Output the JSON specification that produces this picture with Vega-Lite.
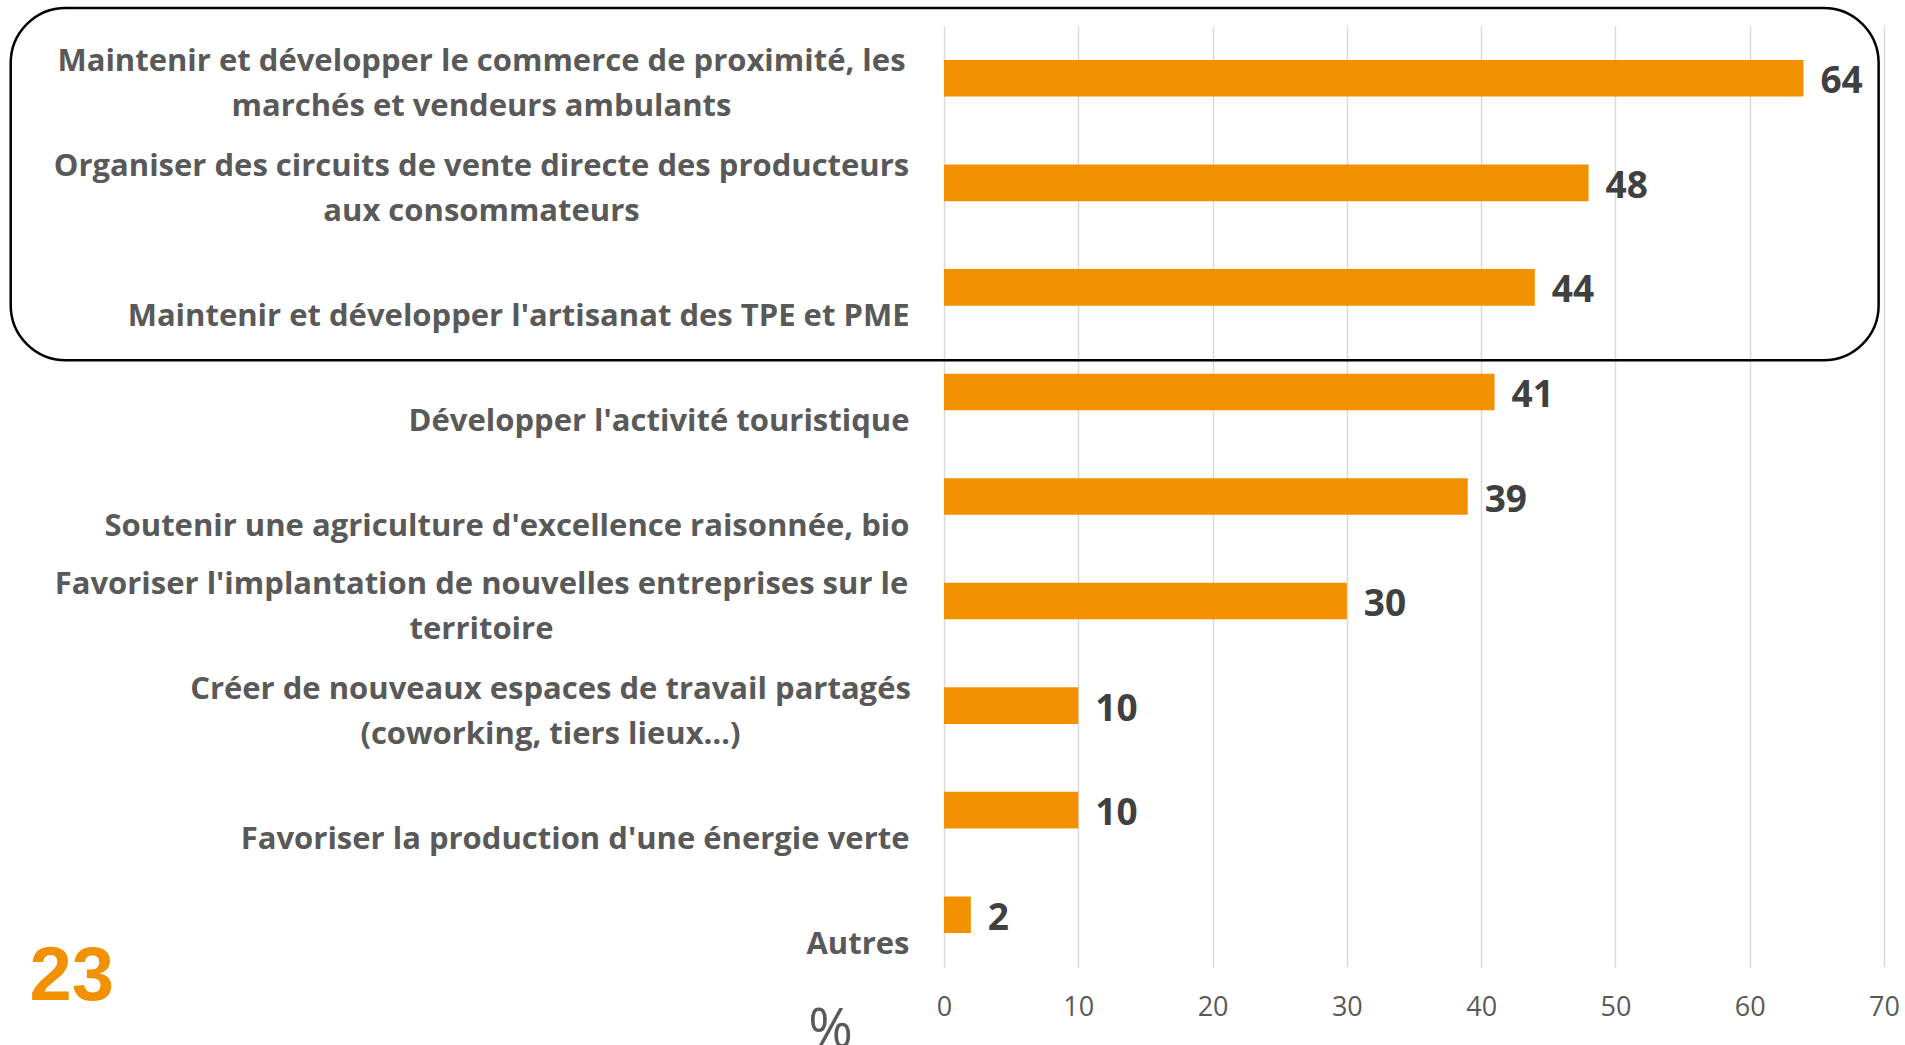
{
  "$schema": "https://vega.github.io/schema/vega-lite/v6.json",
  "width": 940,
  "height": 941,
  "autosize": {"type": "none"},
  "padding": {"left": 944, "top": 26, "right": 21, "bottom": 78},
  "background": "white",
  "config": {"view": {"stroke": null}},
  "datasets": {
    "bars": [
      {"label": "Maintenir et développer le commerce de proximité, les\nmarchés et vendeurs ambulants", "value": 64},
      {"label": "Organiser des circuits de vente directe des producteurs\naux consommateurs", "value": 48},
      {"label": "Maintenir et développer l'artisanat des TPE et PME", "value": 44},
      {"label": "Développer l'activité touristique", "value": 41},
      {"label": "Soutenir une agriculture d'excellence raisonnée, bio", "value": 39},
      {"label": "Favoriser l'implantation de nouvelles entreprises sur le\nterritoire", "value": 30},
      {"label": "Créer de nouveaux espaces de travail partagés\n(coworking, tiers lieux…)", "value": 10},
      {"label": "Favoriser la production d'une énergie verte", "value": 10},
      {"label": "Autres", "value": 2}
    ]
  },
  "layer": [
    {
      "data": {"name": "bars"},
      "encoding": {
        "y": {
          "field": "label", "type": "nominal", "sort": null,
          "scale": {"paddingInner": 0.65, "paddingOuter": 0.325},
          "axis": {
            "title": null, "domain": false, "ticks": false, "grid": false,
            "labelExpr": "split(datum.label, '\\n')",
            "labelFont": "Open Sans", "labelFontSize": 31, "labelFontWeight": "bold",
            "labelColor": "#595959", "labelLimit": 0,
            "labelPadding": {"condition": [{"test": "indexof(datum.value, 'Créer') == 0", "value": 394}, {"test": "indexof(datum.value, '\\n') >= 0", "value": 463}], "value": 35},
            "labelAlign": {"condition": {"test": "indexof(datum.value, '\\n') >= 0", "value": "center"}, "value": "right"},
            "labelBaseline": "bottom",
            "labelOffset": {"condition": {"test": "indexof(datum.value, '\\n') >= 0", "value": 0}, "value": 46},
            "labelLineHeight": 45
          }
        },
        "x": {
          "field": "value", "type": "quantitative",
          "scale": {"domain": [0, 70], "nice": false},
          "axis": {
            "values": [0, 10, 20, 30, 40, 50, 60, 70],
            "domain": false, "ticks": false, "grid": true, "gridColor": "#d9d9d9", "gridWidth": 1.5,
            "labelFont": "Open Sans", "labelFontSize": 27, "labelColor": "#595959", "labelPadding": 27,
            "labelFlush": false,
            "title": "%", "titleFont": "Open Sans", "titleFontSize": 54, "titleFontWeight": "normal",
            "titleColor": "#595959", "titleX": -114, "titleY": 63, "titleAlign": "center",
            "titleBaseline": "middle", "titleAngle": 0
          }
        }
      },
      "layer": [
        {"mark": {"type": "bar", "color": "#F29100"}},
        {
          "mark": {"type": "text", "align": "left", "baseline": "middle", "dx": 17, "dy": 4, "font": "Open Sans", "fontSize": 37, "fontWeight": "bold", "color": "#404040"},
          "encoding": {"text": {"field": "value", "type": "quantitative"}}
        }
      ]
    },
    {
      "data": {"values": [{}]},
      "mark": {"type": "rect", "fill": null, "fillOpacity": 0, "stroke": "#000000", "strokeWidth": 2.5, "cornerRadius": 55, "clip": false},
      "encoding": {
        "x": {"datum": -69.5, "type": "quantitative"},
        "x2": {"datum": 69.6},
        "y": {"datum": -0.172, "type": "quantitative", "scale": {"domain": [0, 9], "reverse": true, "nice": false, "zero": false}, "axis": null},
        "y2": {"datum": 3.196}
      }
    },
    {
      "data": {"values": [{}]},
      "mark": {"type": "text", "text": "23", "align": "left", "baseline": "alphabetic", "font": "Liberation Sans", "fontSize": 76, "fontWeight": "bold", "color": "#F29100"},
      "encoding": {
        "x": {"datum": -68.1, "type": "quantitative"},
        "y": {"datum": 9.32, "type": "quantitative", "scale": {"domain": [0, 9], "reverse": true, "nice": false, "zero": false}, "axis": null}
      }
    }
  ],
  "resolve": {"scale": {"y": "independent"}, "axis": {"y": "independent"}}
}
